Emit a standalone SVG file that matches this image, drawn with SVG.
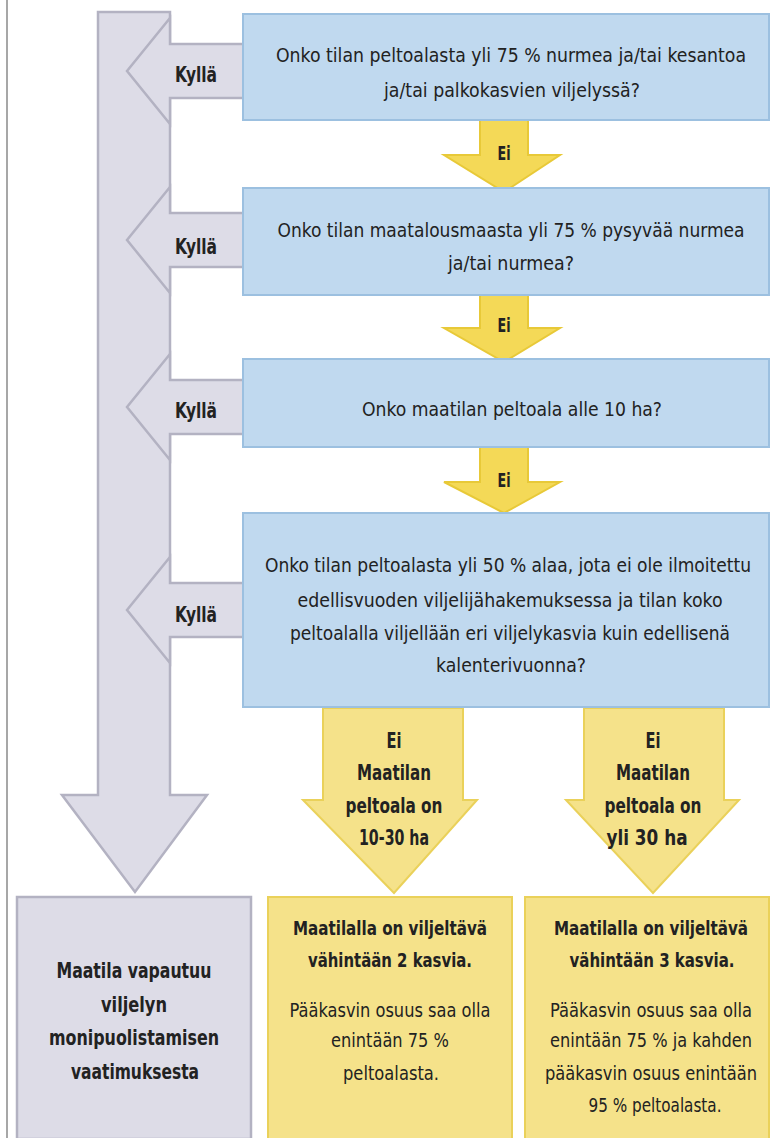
<svg xmlns="http://www.w3.org/2000/svg" width="771" height="1138" viewBox="0 0 771 1138">
<style>
text{font-family:"DejaVu Sans Condensed","DejaVu Sans","Liberation Sans",sans-serif;fill:#222;text-anchor:middle}
.q{font-size:20px}
.b{font-weight:bold}
.blue{fill:#c0d9ef;stroke:#9cc0e0;stroke-width:2}
.grey{fill:#dddce7;stroke:#b3b2c2;stroke-width:2.5}
.yel{fill:#f5e28a;stroke:#ead15a;stroke-width:2}
.yarr{fill:#f4d957;stroke:#e8c938;stroke-width:2}
.r{font-size:19px}
</style>
<rect x="0" y="0" width="771" height="1138" fill="#ffffff"/>
<line x1="7" y1="0" x2="7" y2="1138" stroke="#8a8a8a" stroke-width="1.5"/>
<g id="connectors">
<polygon class="grey" points="98,12 170,12 170,795 207,795 135,892 62,795 98,795"/>
<polygon class="grey" points="127,71 170,18 170,44 244,44 244,98 170,98 170,124"/>
<polygon class="grey" points="127,240 170,187 170,213 244,213 244,267 170,267 170,293"/>
<polygon class="grey" points="127,407 170,354 170,380 244,380 244,434 170,434 170,460"/>
<polygon class="grey" points="127,610 170,557 170,583 244,583 244,637 170,637 170,663"/>
<g class="b" font-size="22">
<text x="196" y="82" textLength="42" lengthAdjust="spacingAndGlyphs">Kyllä</text>
<text x="196" y="254" textLength="42" lengthAdjust="spacingAndGlyphs">Kyllä</text>
<text x="196" y="418" textLength="42" lengthAdjust="spacingAndGlyphs">Kyllä</text>
<text x="196" y="622" textLength="42" lengthAdjust="spacingAndGlyphs">Kyllä</text>
</g>
<polygon class="yarr" points="480,120 528,120 528,155 560,155 504,192 444,155 480,155"/>
<polygon class="yarr" points="480,295 528,295 528,328 560,328 504,362 444,328 480,328"/>
<polygon class="yarr" points="480,447 528,447 528,482 560,482 504,513 444,482 480,482"/>
<g class="b" font-size="19">
<text x="504" y="160" textLength="13" lengthAdjust="spacingAndGlyphs">Ei</text>
<text x="504" y="332" textLength="13" lengthAdjust="spacingAndGlyphs">Ei</text>
<text x="504" y="487" textLength="13" lengthAdjust="spacingAndGlyphs">Ei</text>
</g>
<polygon class="yel" points="323,708 463,708 463,800 477,800 394,893 303,800 323,800"/>
<polygon class="yel" points="584,708 724,708 724,800 739,800 653,893 566,800 584,800"/>
<g class="b" font-size="22">
<text x="394" y="748" textLength="15" lengthAdjust="spacingAndGlyphs">Ei</text>
<text x="394" y="780" textLength="74" lengthAdjust="spacingAndGlyphs">Maatilan</text>
<text x="394" y="813" textLength="97" lengthAdjust="spacingAndGlyphs">peltoala on</text>
<text x="394" y="845" textLength="70" lengthAdjust="spacingAndGlyphs">10-30 ha</text>
<text x="653" y="748" textLength="15" lengthAdjust="spacingAndGlyphs">Ei</text>
<text x="653" y="780" textLength="74" lengthAdjust="spacingAndGlyphs">Maatilan</text>
<text x="653" y="813" textLength="97" lengthAdjust="spacingAndGlyphs">peltoala on</text>
<text x="647" y="845" textLength="81" lengthAdjust="spacingAndGlyphs">yli 30 ha</text>
</g>
</g>
<g id="q1">
<rect class="blue" x="243" y="14" width="526" height="106"/>
<text class="q" x="511" y="62" textLength="470" lengthAdjust="spacingAndGlyphs">Onko tilan peltoalasta yli 75 % nurmea ja/tai kesantoa</text>
<text class="q" x="512" y="97" textLength="256" lengthAdjust="spacingAndGlyphs">ja/tai palkokasvien viljelyssä?</text>
</g>
<g id="q2">
<rect class="blue" x="243" y="188" width="526" height="107"/>
<text class="q" x="511" y="237" textLength="467" lengthAdjust="spacingAndGlyphs">Onko tilan maatalousmaasta yli 75 % pysyvää nurmea</text>
<text class="q" x="511" y="270" textLength="126" lengthAdjust="spacingAndGlyphs">ja/tai nurmea?</text>
</g>
<g id="q3">
<rect class="blue" x="243" y="359" width="526" height="88"/>
<text class="q" x="512" y="416" textLength="300" lengthAdjust="spacingAndGlyphs">Onko maatilan peltoala alle 10 ha?</text>
</g>
<g id="q4">
<rect class="blue" x="243" y="513" width="526" height="194"/>
<text font-size="19" x="508" y="572" textLength="486" lengthAdjust="spacingAndGlyphs">Onko tilan peltoalasta yli 50 % alaa, jota ei ole ilmoitettu</text>
<text class="q" x="510" y="607" textLength="425" lengthAdjust="spacingAndGlyphs">edellisvuoden viljelijähakemuksessa ja tilan koko</text>
<text class="q" x="510" y="640" textLength="440" lengthAdjust="spacingAndGlyphs">peltoalalla viljellään eri viljelykasvia kuin edellisenä</text>
<text class="q" x="511" y="672" textLength="150" lengthAdjust="spacingAndGlyphs">kalenterivuonna?</text>
</g>
<g id="exempt">
<rect class="grey" x="17" y="897" width="234" height="242"/>
<g class="b" font-size="21">
<text x="134" y="978" textLength="155" lengthAdjust="spacingAndGlyphs">Maatila vapautuu</text>
<text x="134" y="1012" textLength="66" lengthAdjust="spacingAndGlyphs">viljelyn</text>
<text x="134" y="1045" textLength="170" lengthAdjust="spacingAndGlyphs">monipuolistamisen</text>
<text x="135" y="1079" textLength="128" lengthAdjust="spacingAndGlyphs">vaatimuksesta</text>
</g>
</g>
<g id="two-crops">
<rect class="yel" x="268" y="897" width="244" height="242"/>
<text class="b r" x="390" y="935" textLength="194" lengthAdjust="spacingAndGlyphs">Maatilalla on viljeltävä</text>
<text class="b r" x="390" y="967" textLength="164" lengthAdjust="spacingAndGlyphs">vähintään 2 kasvia.</text>
<text class="r" x="390" y="1017" textLength="201" lengthAdjust="spacingAndGlyphs">Pääkasvin osuus saa olla</text>
<text class="r" x="390" y="1047" textLength="118" lengthAdjust="spacingAndGlyphs">enintään 75 %</text>
<text class="r" x="391" y="1080" textLength="96" lengthAdjust="spacingAndGlyphs">peltoalasta.</text>
</g>
<g id="three-crops">
<rect class="yel" x="525" y="897" width="244" height="242"/>
<text class="b r" x="651" y="935" textLength="194" lengthAdjust="spacingAndGlyphs">Maatilalla on viljeltävä</text>
<text class="b r" x="652" y="967" textLength="165" lengthAdjust="spacingAndGlyphs">vähintään 3 kasvia.</text>
<text class="r" x="651" y="1017" textLength="202" lengthAdjust="spacingAndGlyphs">Pääkasvin osuus saa olla</text>
<text class="r" x="651" y="1047" textLength="202" lengthAdjust="spacingAndGlyphs">enintään 75 % ja kahden</text>
<text class="r" x="651" y="1080" textLength="212" lengthAdjust="spacingAndGlyphs">pääkasvin osuus enintään</text>
<text class="r" x="655" y="1112" textLength="133" lengthAdjust="spacingAndGlyphs">95 % peltoalasta.</text>
</g>
</svg>
